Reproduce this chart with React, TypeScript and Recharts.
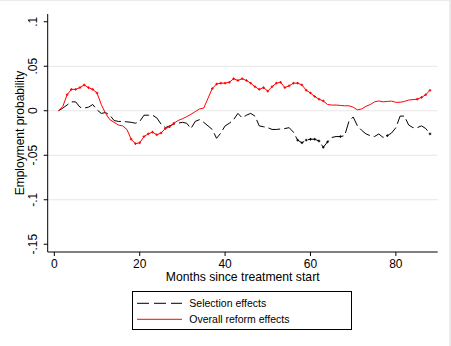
import React from "react";
import { LineChart, Line, XAxis, YAxis, ReferenceLine } from "recharts";

const months = Array.from({ length: 88 }, (_, i) => i + 1);

const overallReform = [
  0, 0.005, 0.018, 0.024, 0.024, 0.026, 0.029, 0.026, 0.024, 0.02,
  0.007, -0.003, -0.01, -0.013, -0.016, -0.017, -0.021, -0.032, -0.037, -0.036,
  -0.029, -0.026, -0.024, -0.027, -0.025, -0.02, -0.018, -0.014, -0.011, -0.009,
  -0.0067, -0.004, -0.001, 0.002, 0.003, 0.014, 0.025, 0.03, 0.031, 0.031,
  0.032, 0.036, 0.034, 0.036, 0.034, 0.031, 0.027, 0.024, 0.026, 0.022,
  0.027, 0.031, 0.032, 0.026, 0.028, 0.031, 0.031, 0.029, 0.023, 0.02,
  0.016, 0.013, 0.011, 0.007, 0.0064, 0.0064, 0.006, 0.0056, 0.0056, 0.004,
  0.001, 0.002, 0.005, 0.007, 0.01, 0.011, 0.01, 0.0105, 0.0108, 0.0095,
  0.0095, 0.0105, 0.012, 0.0125, 0.013, 0.015, 0.018, 0.023,
];

const selection = [
  0, 0.003, 0.0065, 0.01, 0.01, 0.004, 0.003, 0.004, 0.007, 0.001,
  -0.003, -0.002, -0.005, -0.011, -0.012, -0.012, -0.0125, -0.013, -0.014, -0.012,
  -0.005, -0.005, -0.005, -0.008, -0.015, -0.019, -0.017, -0.015, -0.014, -0.013,
  -0.014, -0.02, -0.012, -0.01, -0.013, -0.017, -0.021, -0.031, -0.025, -0.017,
  -0.014, -0.01, -0.003, -0.008, -0.005, -0.003, -0.006, -0.017, -0.018, -0.019,
  -0.021, -0.021, -0.0205, -0.02, -0.019, -0.024, -0.033, -0.036, -0.033, -0.032,
  -0.032, -0.034, -0.041, -0.035, -0.03, -0.029, -0.029, -0.028, -0.012, -0.007,
  -0.017, -0.022, -0.026, -0.028, -0.029, -0.026, -0.03, -0.028, -0.025, -0.019,
  -0.006, -0.006, -0.016, -0.019, -0.019, -0.017, -0.02, -0.026,
];

// months where a marker is drawn on each series
const overallMarked = [3,4,5,6,7,8,9,10,18,19,20,21,22,23,24,25,26,27,28,37,38,39,40,41,42,43,44,45,46,47,48,49,50,51,52,53,54,55,56,57,58,59,60,61,62,63,85,86,87,88];
const selectionMarked = [57,58,59,60,61,62,63,64,67,78,88];

const yTicks = [-0.15, -0.1, -0.05, 0, 0.05, 0.1];
const yTickLabels = ["-.15", "-.1", "-.05", "0", ".05", ".1"];
const gridValues = [-0.1, -0.05, 0, 0.05];
const xTicks = [0, 20, 40, 60, 80];

const seriesNames = ["Selection effects", "Overall reform effects"];

const data = months.map((m, i) => ({ month: m, sel: selection[i], overall: overallReform[i] }));

const FONT = "'Liberation Sans', Arial, sans-serif";

const YTick = (props: any) => {
  const { y, payload } = props;
  const idx = yTicks.indexOf(payload.value);
  const label = idx >= 0 ? yTickLabels[idx] : String(payload.value);
  return (
    <text
      x={37.5}
      y={y}
      transform={`rotate(-90, 37.5, ${y})`}
      textAnchor="middle"
      fontSize={12}
      fontFamily={FONT}
      fill="#000"
    >
      {label}
    </text>
  );
};

const XTick = (props: any) => {
  const { x, y, payload } = props;
  return (
    <text x={x} y={y + 10} textAnchor="middle" fontSize={12} fontFamily={FONT} fill="#000">
      {payload.value}
    </text>
  );
};

const makeDot = (marked: number[], color: string) => (props: any) => {
  const { cx, cy, payload, index } = props;
  if (!marked.includes(payload.month) || cx == null || cy == null) return <g key={`d${index}`} />;
  return (
    <path
      key={`d${index}`}
      d={`M${cx - 1.3},${cy}H${cx + 1.3}M${cx},${cy - 1.3}V${cy + 1.3}`}
      stroke={color}
      strokeWidth={1}
      fill="none"
    />
  );
};

const LegendBox = () => (
  <div
    style={{
      position: "absolute",
      left: 132,
      top: 290,
      width: 220,
      height: 39,
      border: "1px solid #000",
      boxSizing: "border-box",
      background: "#fff",
    }}
  >
    <svg width={220} height={39} style={{ position: "absolute", left: -1, top: -1 }}>
      <line x1={5} x2={50} y1={12.3} y2={12.3} stroke="#000" strokeWidth={1} strokeDasharray="12 5" />
      <line x1={5} x2={50} y1={28.3} y2={28.3} stroke="#ff0000" strokeWidth={1} />
      <text x={57.3} y={16} fontSize={10.5} fontFamily={FONT} fill="#000">{seriesNames[0]}</text>
      <text x={57.3} y={32} fontSize={10.5} fontFamily={FONT} fill="#000">{seriesNames[1]}</text>
    </svg>
  </div>
);

export default function App() {
  return (
    <div
      style={{
        position: "absolute",
        left: 0,
        top: 0,
        width: 451,
        height: 346,
        background: "#fff",
        borderTop: "1px solid #ebebeb",
        borderRight: "2px solid #ebebeb",
        boxSizing: "border-box",
      }}
    >
      <div style={{ position: "absolute", left: 0, top: -1 }}>
        <LineChart
          width={451}
          height={346}
          data={data}
          margin={{ top: 14, right: 13.3, bottom: 64, left: 7.7 }}
        >
          {gridValues.map((v) => (
            <ReferenceLine key={v} y={v} stroke="#e6e6e6" strokeWidth={1} />
          ))}
          <XAxis
            dataKey="month"
            type="number"
            domain={[-1.55, 89.8]}
            ticks={xTicks}
            allowDataOverflow
            height={30}
            tickSize={4}
            axisLine={{ stroke: "#000", strokeWidth: 1 }}
            tickLine={{ stroke: "#000", strokeWidth: 1 }}
            tick={<XTick />}
            interval={0}
            label={(p: any) => {
              const vb = p.viewBox || {};
              return (
                <text
                  x={vb.x + vb.width / 2}
                  y={281}
                  textAnchor="middle"
                  fontSize={12.2}
                  fontFamily={FONT}
                  fill="#000"
                >
                  Months since treatment start
                </text>
              );
            }}
          />
          <YAxis
            type="number"
            domain={[-0.1587, 0.1087]}
            ticks={yTicks}
            allowDataOverflow
            width={40}
            tickSize={4}
            axisLine={{ stroke: "#000", strokeWidth: 1 }}
            tickLine={{ stroke: "#000", strokeWidth: 1 }}
            tick={<YTick />}
            interval={0}
            label={(p: any) => {
              const vb = p.viewBox || {};
              const cy = vb.y + vb.height / 2;
              return (
                <text
                  x={24}
                  y={cy}
                  transform={`rotate(-90, 24, ${cy})`}
                  textAnchor="middle"
                  fontSize={12}
                  fontFamily={FONT}
                  fill="#000"
                >
                  Employment probability
                </text>
              );
            }}
          />
          <Line
            type="linear"
            dataKey="sel"
            name={seriesNames[0]}
            stroke="#000"
            strokeWidth={1}
            strokeDasharray="12 4"
            dot={makeDot(selectionMarked, "#000")}
            activeDot={false}
            isAnimationActive={false}
          />
          <Line
            type="linear"
            dataKey="overall"
            name={seriesNames[1]}
            stroke="#ff0000"
            strokeWidth={1}
            dot={makeDot(overallMarked, "#ff0000")}
            activeDot={false}
            isAnimationActive={false}
          />
        </LineChart>
      </div>
      <LegendBox />
    </div>
  );
}
